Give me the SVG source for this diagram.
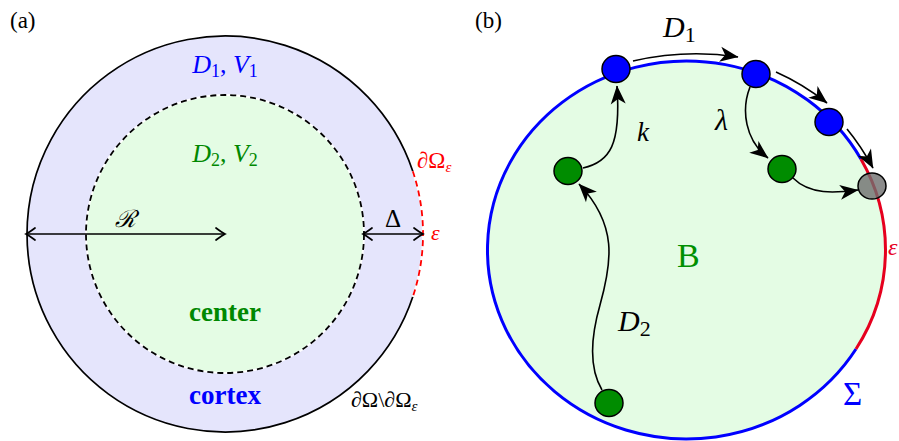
<svg xmlns="http://www.w3.org/2000/svg" width="899" height="441" viewBox="0 0 899 441">
<style>
.t{font-family:"Liberation Serif","DejaVu Serif",serif}
.it{font-family:"Liberation Serif","DejaVu Serif",serif;font-style:italic}
.bold{font-family:"Liberation Serif","DejaVu Serif",serif;font-weight:bold}
.ax{fill:none;stroke:#000;stroke-width:1.7}
.con{fill:none;stroke:#000;stroke-width:1.6}
.halo{fill:none;stroke:#fff;stroke-width:5}
.nb{fill:#0000ff;stroke:#000;stroke-width:1.5}
.ng{fill:#008c00;stroke:#000;stroke-width:1.5}
</style>
<defs>
<marker id="ch" markerWidth="1" markerHeight="1" refX="0" refY="0" markerUnits="userSpaceOnUse" orient="auto-start-reverse" overflow="visible">
<path d="M-9,-6 Q-3,-1.5 0,0 Q-3,1.5 -9,6" fill="none" stroke="#000" stroke-width="1.7" stroke-linecap="round"/>
</marker>
<marker id="ah" markerWidth="1" markerHeight="1" refX="0" refY="0" markerUnits="userSpaceOnUse" orient="auto" overflow="visible">
<path d="M0.5,0 L-18,-7.5 L-13,0 L-18,7.5 Z" fill="#000"/>
</marker>
</defs>
<rect width="899" height="441" fill="#fff"/>

<!-- Panel (a) -->
<g id="panel-a">
<text class="t" x="10" y="28" font-size="23">(a)</text>
<g id="cortex">
<circle cx="225" cy="234" r="198" fill="#e5e5fc"/>
<path d="M412.8,171.2 A198,198 0 1 0 412.8,296.8" fill="none" stroke="#000" stroke-width="1.7"/>
<path d="M412.8,171.2 A198,198 0 0 1 412.8,296.8" fill="none" stroke="#fff" stroke-width="1.8"/>
<path d="M412.8,171.2 A198,198 0 0 1 412.8,296.8" fill="none" stroke="#ff0000" stroke-width="1.8" stroke-dasharray="6,4"/>
<text class="it" x="225" y="73" font-size="26" fill="#0000ff" text-anchor="middle">D<tspan font-style="normal" font-size="18" dy="4">1</tspan><tspan font-style="normal" dy="-4">, </tspan>V<tspan font-style="normal" font-size="18" dy="4">1</tspan></text>
<text class="bold" x="225" y="404" font-size="27" fill="#0000ff" text-anchor="middle">cortex</text>
</g>
<g id="center">
<circle cx="225" cy="234" r="139" fill="#e4fce4" stroke="#fff" stroke-width="1.8"/>
<circle cx="225" cy="234" r="139" fill="none" stroke="#000" stroke-width="1.8" stroke-dasharray="6,4"/>
<text class="it" x="225" y="162" font-size="26" fill="#008800" text-anchor="middle">D<tspan font-style="normal" font-size="18" dy="4">2</tspan><tspan font-style="normal" dy="-4">, </tspan>V<tspan font-style="normal" font-size="18" dy="4">2</tspan></text>
<text class="bold" x="225" y="321" font-size="27" fill="#008800" text-anchor="middle">center</text>
</g>
<g id="dims">
<path class="ax" d="M26,234 H225" marker-start="url(#ch)" marker-end="url(#ch)"/>
<path class="ax" d="M363,234 H423" marker-start="url(#ch)" marker-end="url(#ch)"/>
<text class="it" x="115" y="227" font-size="24">ℛ</text>
<text class="t" x="385" y="227" font-size="25">Δ</text>
</g>
<g id="labels-a">
<text class="t" x="417" y="168" font-size="23" fill="#ff0000">∂Ω<tspan class="it" font-size="15" dy="4">ε</tspan></text>
<text class="it" x="431" y="240" font-size="22" fill="#ff0000">ε</text>
<text class="t" x="351" y="407" font-size="22" fill="#000">∂Ω\∂Ω<tspan class="it" font-size="15" dy="4">ε</tspan></text>
</g>
</g>

<!-- Panel (b) -->
<g id="panel-b">
<text class="t" x="475" y="28" font-size="23">(b)</text>
<g id="domain-B">
<ellipse cx="686.5" cy="250" rx="199" ry="189" fill="#e4fce4"/>
<path d="M860.9,159 A199,189 0 1 0 856,349" fill="none" stroke="#0000ff" stroke-width="3"/>
<path d="M860.9,159 A199,189 0 0 1 856,349" fill="none" stroke="#e6001e" stroke-width="3"/>
<text class="t" x="677" y="267" font-size="34" fill="#009000">B</text>
<text class="t" x="843" y="405" font-size="33" fill="#0000ff">Σ</text>
<text class="it" x="888" y="255" font-size="24" fill="#e6001e">ε</text>
</g>
<g id="connectors">
<path class="halo" d="M633,61 Q686,49 738,57"/>
<path class="halo" d="M776,72 Q803,84 827,103"/>
<path class="halo" d="M847,129 Q861,146 873,168"/>
<path class="con" d="M633,61 Q686,49 738,57" marker-end="url(#ah)"/>
<path class="con" d="M776,72 Q803,84 827,103" marker-end="url(#ah)"/>
<path class="con" d="M847,129 Q861,146 873,168" marker-end="url(#ah)"/>
<path class="con" d="M750,87 C741,110 745,140 768,158" marker-end="url(#ah)"/>
<path class="con" d="M793,178 C810,195 835,193 858,190" marker-end="url(#ah)"/>
<path class="con" d="M583,168 C610,162 621,145 617,86" marker-end="url(#ah)"/>
<path class="con" d="M602,390 C590,370 590,340 600,305 C612,262 618,225 579,184" marker-end="url(#ah)"/>
<text class="it" x="663" y="37" font-size="30">D<tspan font-style="normal" font-size="22" dy="5">1</tspan></text>
<text class="it" x="637" y="141" font-size="27">k</text>
<text class="it" x="715" y="130" font-size="30">λ</text>
<text class="it" x="618" y="331" font-size="30">D<tspan font-style="normal" font-size="22" dy="5">2</tspan></text>
</g>
<g id="node-blue1"><ellipse class="nb" cx="616" cy="69" rx="14" ry="13.5"/></g>
<g id="node-blue2"><ellipse class="nb" cx="756" cy="74" rx="14" ry="13.5"/></g>
<g id="node-blue3"><ellipse class="nb" cx="829" cy="122" rx="14" ry="13.5"/></g>
<g id="node-green1"><ellipse class="ng" cx="568" cy="171" rx="14" ry="13.5"/></g>
<g id="node-green2"><ellipse class="ng" cx="782" cy="169" rx="14" ry="13.5"/></g>
<g id="node-green3"><ellipse class="ng" cx="609" cy="403" rx="14" ry="13.5"/></g>
<g id="node-gray"><ellipse cx="872" cy="186" rx="14" ry="13" fill="#6e6e6e" fill-opacity="0.8" stroke="#000" stroke-width="1.5"/></g>
</g>
</svg>
